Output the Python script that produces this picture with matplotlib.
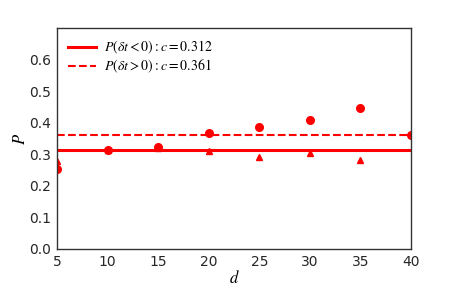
import matplotlib
matplotlib.use("Agg")
import matplotlib.pyplot as plt

d = [5, 10, 15, 20, 25, 30, 35, 40]
p_pos = [0.253, 0.313, 0.322, 0.369, 0.388, 0.410, 0.448, 0.360]
d_neg = [5, 10, 15, 20, 25, 30, 35]
p_neg = [0.278, 0.313, 0.320, 0.310, 0.290, 0.303, 0.281]
c_neg = 0.312
c_pos = 0.361


def main():
    plt.rcParams["mathtext.fontset"] = "stix"
    fig = plt.figure(figsize=(4.57, 2.86), dpi=100)
    ax = fig.add_axes([57 / 457, 37 / 286, 354 / 457, 221 / 286])
    ax.plot(d_neg, p_neg, "^", color="red", markersize=5)
    ax.plot(d, p_pos, "o", color="red", markersize=5.5)
    ax.axhline(c_neg, color="red", lw=2.2, label=r"$P(\delta t<0):c=0.312$")
    ax.axhline(c_pos, color="red", lw=1.5, ls="--", label=r"$P(\delta t>0):c=0.361$")
    ax.set_xlim(5, 40)
    ax.set_ylim(0, 0.7)
    ax.set_yticks([0.0, 0.1, 0.2, 0.3, 0.4, 0.5, 0.6])
    ax.tick_params(length=0, labelsize=10, colors="#262626", pad=4)
    for s in ax.spines.values():
        s.set_color("#333333")
        s.set_linewidth(1.0)
    ax.set_xlabel(r"$d$", fontsize=12, labelpad=0)
    ax.set_ylabel(r"$P$", fontsize=12, labelpad=0)
    ax.legend(loc="upper left", frameon=False, fontsize=10, labelspacing=0.1,
              handlelength=2.0, handletextpad=0.6, borderaxespad=0.4)
    fig.savefig("out.png")


if __name__ == '__main__':
    main()
